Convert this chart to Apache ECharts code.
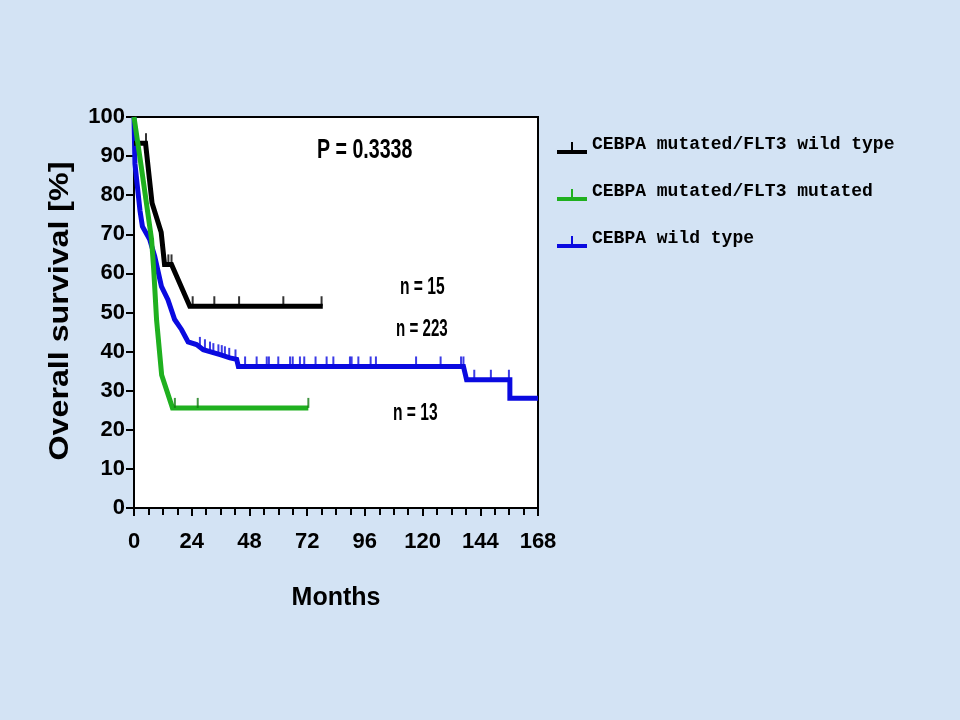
<!DOCTYPE html>
<html><head><meta charset="utf-8">
<script src="https://cdn.jsdelivr.net/npm/echarts@6/dist/echarts.min.js"></script>
<style>html,body{margin:0;padding:0;background:#d3e3f4;}#c{width:960px;height:720px;}</style>
</head><body><div id="c"></div>
<script>
// ---- data ----
const seriesNames = ['CEBPA mutated/FLT3 wild type', 'CEBPA mutated/FLT3 mutated', 'CEBPA wild type'];
const xTicks = [0, 24, 48, 72, 96, 120, 144, 168];
const yTicks = [0, 10, 20, 30, 40, 50, 60, 70, 80, 90, 100];

const blackCurve = [[0,93.3],[4.8,93.3],[7.5,78],[11.3,70.5],[12.7,62.3],[15.6,62.3],[23.2,51.6],[78.5,51.6]];
const blackCensor = [[5,93.3],[14.3,62.3],[15.6,62.3],[24.4,51.6],[33.4,51.6],[43.7,51.6],[62.1,51.6],[78,51.6]];

const greenCurve = [[0,100],[3,87.4],[7.3,68.7],[8.2,61],[9.4,48],[11.5,34],[16,25.6],[72.5,25.6]];
const greenCensor = [[17,25.6],[26.5,25.6],[72.5,25.6]];

const blueCurve = [[0,100],[0.4,88],[2.5,76],[3.5,72],[6.5,68.7],[8.6,64.4],[11.4,56.7],[14.1,53.3],[16.9,48.2],[19.8,45.6],[22.5,42.5],[26,41.8],[28.8,40.5],[35.8,39.2],[39.9,38.4],[42.7,38],[43.4,36.2],[137,36.2],[138.3,32.8],[156.3,32.8],[156.3,28.1],[168,28.1]];
const blueCensor = [[27.4,41.2],[29.5,40.6],[31.6,40],[33,39.6],[35.1,39.3],[36.5,39.1],[37.8,38.8],[39.6,38.4],[42.2,38],
  [46.2,36.2],[51,36.2],[55.2,36.2],[56.1,36.2],[60,36.2],[64.9,36.2],[66,36.2],[69,36.2],[70.8,36.2],[75.5,36.2],[80.1,36.2],[82.9,36.2],[89.8,36.2],[90.5,36.2],[93.3,36.2],[98.4,36.2],[100.6,36.2],[117.3,36.2],[127.5,36.2],[136,36.2],[137,36.2],
  [141.5,32.8],[148.4,32.8],[155.9,32.8]];

const pText = 'P = 0.3338';
const nLabels = ['n = 15', 'n = 223', 'n = 13'];
const xName = 'Months';
const yName = 'Overall survival [%]';

// ---- styles ----
const colors = ['#000000', '#1fb01f', '#0a0ae0'];
const sansB = '"Liberation Sans", Arial, sans-serif';
const iconPath = 'path://M0,8 L30,8 L30,12 L0,12 Z M14,0 L16,0 L16,8 L14,8 Z';

function lineSeries(name, data, color, z) {
  return { name: name, type: 'line', data: data, showSymbol: false, symbol: 'none', z: z,
    lineStyle: { color: color, width: 5, join: 'miter' }, itemStyle: { color: color }, animation: false };
}
function censorSeries(name, data, color, z) {
  return { name: name, type: 'scatter', data: data, symbol: 'rect', symbolSize: [2, 10], symbolOffset: [0, -5], z: z,
    itemStyle: { color: color }, silent: true, animation: false };
}
function narrowText(txt, x, y, size, sx) {
  return { type: 'text', x: x, y: y, scaleX: sx, z: 10,
    style: { text: txt, fontFamily: sansB, fontWeight: 'bold', fontSize: size, fill: '#000', align: 'left', verticalAlign: 'middle' } };
}

const chart = echarts.init(document.getElementById('c'));
chart.setOption({
  backgroundColor: '#d3e3f4',
  animation: false,
  grid: { left: 134, top: 117, right: 422, bottom: 212, show: true, backgroundColor: '#ffffff', borderColor: '#000', borderWidth: 2 },
  legend: {
    orient: 'vertical', left: 552, top: 130, itemWidth: 30, itemHeight: 12, itemGap: 28,
    data: seriesNames.map(function (n) { return { name: n, icon: iconPath }; }),
    formatter: function (n) { return '{t|' + n + '}'; },
    textStyle: { rich: { t: { fontFamily: '"Liberation Mono", "Courier New", monospace', fontWeight: 'bold', fontSize: 18, color: '#000', padding: [0, 0, 8, 0] } } }
  },
  xAxis: {
    type: 'value', min: 0, max: 168, interval: 24,
    name: xName, nameLocation: 'middle', nameGap: 78,
    nameTextStyle: { fontFamily: sansB, fontWeight: 'bold', fontSize: 25, color: '#000' },
    axisLine: { lineStyle: { color: '#000', width: 2 } },
    axisTick: { show: true, inside: false, length: 8, lineStyle: { color: '#000', width: 2 } },
    minorTick: { show: true, splitNumber: 4, length: 7, lineStyle: { color: '#000', width: 2 } },
    splitLine: { show: false },
    axisLabel: { margin: 23, fontFamily: sansB, fontWeight: 'bold', fontSize: 22, color: '#000',
      formatter: function (v) { return xTicks.indexOf(v) >= 0 ? String(v) : ''; } }
  },
  yAxis: {
    type: 'value', min: 0, max: 100, interval: 10,
    axisLine: { show: true, lineStyle: { color: '#000', width: 2 } },
    axisTick: { show: true, inside: false, length: 8, lineStyle: { color: '#000', width: 2 } },
    splitLine: { show: false },
    axisLabel: { margin: 9, fontFamily: sansB, fontWeight: 'bold', fontSize: 22, color: '#000',
      formatter: function (v) { return yTicks.indexOf(v) >= 0 ? String(v) : ''; } }
  },
  graphic: [
    narrowText(pText, 317, 150, 28, 0.7),
    narrowText(nLabels[0], 400, 287, 24, 0.65),
    narrowText(nLabels[1], 396, 329, 24, 0.63),
    narrowText(nLabels[2], 393, 413, 24, 0.65),
    { type: 'text', x: 60, y: 311, rotation: Math.PI / 2, scaleX: 1.15,
      style: { text: yName, fontFamily: sansB, fontWeight: 'bold', fontSize: 28, fill: '#000', align: 'center', verticalAlign: 'middle' } }
  ],
  series: [
    lineSeries(seriesNames[2], blueCurve, colors[2], 2),
    censorSeries(seriesNames[2], blueCensor, colors[2], 2),
    lineSeries(seriesNames[0], blackCurve, colors[0], 3),
    censorSeries(seriesNames[0], blackCensor, colors[0], 3),
    lineSeries(seriesNames[1], greenCurve, colors[1], 4),
    censorSeries(seriesNames[1], greenCensor, '#117a11', 4)
  ]
});
</script></body></html>
